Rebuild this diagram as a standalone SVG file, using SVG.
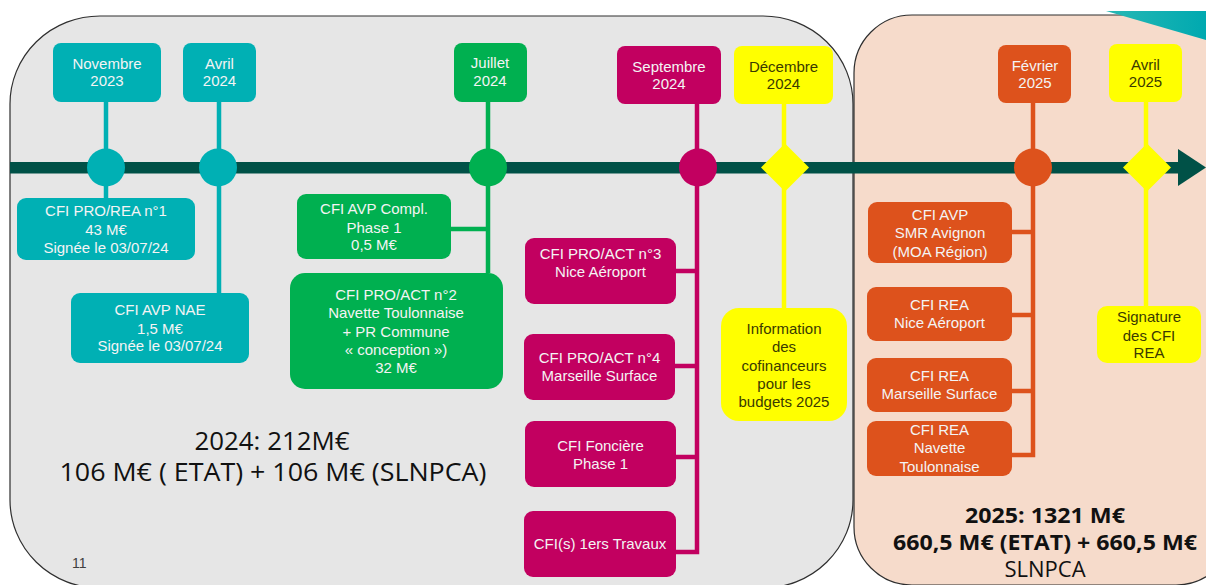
<svg xmlns="http://www.w3.org/2000/svg" width="1206" height="585" viewBox="0 0 1206 585">
  <defs>
    <linearGradient id="tealCorner" x1="0" y1="0" x2="1" y2="0">
      <stop offset="0" stop-color="#27b8b4"/>
      <stop offset="1" stop-color="#00a9b0"/>
    </linearGradient>
    <style>
      .panel-grey { fill: #e6e6e6; stroke: #2e2e2e; stroke-width: 1.2; }
      .panel-peach { fill: #f6dbcb; stroke: #2e2e2e; stroke-width: 1.2; }
      .axis { fill: #005147; }
      .lbl { font-family: "Liberation Sans", Arial, sans-serif; font-size: 15px; text-anchor: middle; }
      .wht { fill: #f4f4f4; }
      .dark { fill: #3a3a00; }
      .teal { fill: #00b0b4; }
      .green { fill: #00b050; }
      .mag { fill: #c20060; }
      .yel { fill: #ffff00; }
      .org { fill: #dd521c; }
      .st-teal { stroke: #00b0b4; }
      .st-green { stroke: #00b050; }
      .st-mag { stroke: #c20060; }
      .st-yel { stroke: #ffff00; }
      .st-org { stroke: #dd521c; }
      .wire { fill: none; stroke-width: 4.5; }
      .sum { font-family: "Open Sans", "Liberation Sans", sans-serif; fill: #111; text-anchor: middle; }
      .sum24 { font-size: 25px; }
      .sum25 { font-size: 22px; font-weight: bold; }
    </style>
  </defs>

  <!-- background panels -->
  <rect x="0" y="0" width="1206" height="585" fill="#ffffff"/>
  <rect class="panel-grey" x="10" y="16" width="843" height="572" rx="90" ry="88"/>
  <rect class="panel-peach" x="854" y="15" width="380" height="570" rx="58" ry="58"/>
  <polygon points="1106,11 1206,11 1206,40" fill="url(#tealCorner)"/>

  <!-- connectors -->
  <g id="connectors" class="wire">
    <path class="st-teal" d="M106,102 V198"/>
    <path class="st-teal" d="M219,102 V293"/>
    <path class="st-green" d="M488,102 V273 M451,229 H488"/>
    <path class="st-mag" d="M697,104 V552 H676 M676,271 H697 M675,366 H697 M676,457 H697"/>
    <path class="st-yel" d="M784,104 V308"/>
    <path class="st-org" d="M1033,103 V455 H1012 M1012,232 H1033 M1012,315 H1033 M1012,391 H1033"/>
    <path class="st-yel" d="M1146,102 V306"/>
  </g>

  <!-- timeline axis -->
  <g id="axis">
    <rect class="axis" x="10" y="162" width="1170" height="11.5"/>
    <polygon class="axis" points="1178,149 1206,167.5 1178,186"/>
  </g>

  <!-- milestones on the axis -->
  <g id="markers">
    <circle class="teal" cx="106" cy="167.5" r="19"/>
    <circle class="teal" cx="218" cy="167.5" r="19"/>
    <circle class="green" cx="488" cy="167.5" r="19"/>
    <circle class="mag" cx="698" cy="167.5" r="19"/>
    <polygon class="yel" points="785,143.5 809,167.5 785,191.5 761,167.5"/>
    <circle class="org" cx="1033" cy="167.5" r="19"/>
    <polygon class="yel" points="1147,143.5 1171,167.5 1147,191.5 1123,167.5"/>
  </g>

  <!-- date labels -->
  <g id="date-nov-2023">
    <rect class="teal" x="53" y="43" width="108" height="59" rx="8"/>
    <text class="lbl wht" x="107" y="69">Novembre</text>
    <text class="lbl wht" x="107" y="86">2023</text>
  </g>
  <g id="date-avr-2024">
    <rect class="teal" x="183" y="43" width="73" height="59" rx="8"/>
    <text class="lbl wht" x="219.5" y="69">Avril</text>
    <text class="lbl wht" x="219.5" y="86">2024</text>
  </g>
  <g id="date-jul-2024">
    <rect class="green" x="454" y="43" width="73" height="59" rx="8"/>
    <text class="lbl wht" x="490" y="68">Juillet</text>
    <text class="lbl wht" x="490" y="86">2024</text>
  </g>
  <g id="date-sep-2024">
    <rect class="mag" x="617" y="46" width="104" height="58" rx="8"/>
    <text class="lbl wht" x="669" y="72">Septembre</text>
    <text class="lbl wht" x="669" y="89">2024</text>
  </g>
  <g id="date-dec-2024">
    <rect class="yel" x="734" y="46" width="99" height="58" rx="8"/>
    <text class="lbl dark" x="783.5" y="72">Décembre</text>
    <text class="lbl dark" x="783.5" y="89">2024</text>
  </g>
  <g id="date-fev-2025">
    <rect class="org" x="998" y="45" width="73" height="58" rx="8"/>
    <text class="lbl wht" x="1035" y="71">Février</text>
    <text class="lbl wht" x="1035" y="88">2025</text>
  </g>
  <g id="date-avr-2025">
    <rect class="yel" x="1109" y="44" width="73" height="58" rx="8"/>
    <text class="lbl dark" x="1145.5" y="70">Avril</text>
    <text class="lbl dark" x="1145.5" y="87">2025</text>
  </g>

  <!-- 2024 agreements -->
  <g id="cfi-pro-rea-1">
    <rect class="teal" x="17" y="198" width="178" height="62" rx="9"/>
    <text class="lbl wht" x="106" y="216">CFI PRO/REA n°1</text>
    <text class="lbl wht" x="106" y="235">43 M€</text>
    <text class="lbl wht" x="106" y="253">Signée le 03/07/24</text>
  </g>
  <g id="cfi-avp-nae">
    <rect class="teal" x="71" y="293" width="178" height="70" rx="9"/>
    <text class="lbl wht" x="160" y="315">CFI AVP NAE</text>
    <text class="lbl wht" x="160" y="334">1,5 M€</text>
    <text class="lbl wht" x="160" y="351">Signée le 03/07/24</text>
  </g>
  <g id="cfi-avp-compl">
    <rect class="green" x="297" y="194" width="154" height="65" rx="9"/>
    <text class="lbl wht" x="374" y="214">CFI AVP Compl.</text>
    <text class="lbl wht" x="374" y="233">Phase 1</text>
    <text class="lbl wht" x="374" y="250">0,5 M€</text>
  </g>
  <g id="cfi-pro-act-2">
    <rect class="green" x="290" y="273" width="213" height="116" rx="15"/>
    <text class="lbl wht" x="396" y="300">CFI PRO/ACT n°2</text>
    <text class="lbl wht" x="396" y="318">Navette Toulonnaise</text>
    <text class="lbl wht" x="396" y="337">+ PR Commune</text>
    <text class="lbl wht" x="396" y="355">« conception »)</text>
    <text class="lbl wht" x="396" y="373">32 M€</text>
  </g>
  <g id="cfi-pro-act-3">
    <rect class="mag" x="525" y="238" width="151" height="66" rx="9"/>
    <text class="lbl wht" x="600.5" y="259">CFI PRO/ACT n°3</text>
    <text class="lbl wht" x="600.5" y="277">Nice Aéroport</text>
  </g>
  <g id="cfi-pro-act-4">
    <rect class="mag" x="524" y="334" width="151" height="66" rx="9"/>
    <text class="lbl wht" x="599.5" y="363">CFI PRO/ACT n°4</text>
    <text class="lbl wht" x="599.5" y="381">Marseille Surface</text>
  </g>
  <g id="cfi-fonciere">
    <rect class="mag" x="525" y="421" width="151" height="66" rx="9"/>
    <text class="lbl wht" x="600.5" y="451">CFI Foncière</text>
    <text class="lbl wht" x="600.5" y="469">Phase 1</text>
  </g>
  <g id="cfi-travaux">
    <rect class="mag" x="524" y="511" width="152" height="66" rx="9"/>
    <text class="lbl wht" x="600" y="549">CFI(s) 1ers Travaux</text>
  </g>
  <g id="info-cofinanceurs">
    <rect class="yel" x="721" y="308" width="126" height="113" rx="18"/>
    <text class="lbl dark" x="784" y="334">Information</text>
    <text class="lbl dark" x="784" y="352">des</text>
    <text class="lbl dark" x="784" y="371">cofinanceurs</text>
    <text class="lbl dark" x="784" y="389">pour les</text>
    <text class="lbl dark" x="784" y="407">budgets 2025</text>
  </g>

  <!-- 2025 agreements -->
  <g id="cfi-avp-smr">
    <rect class="org" x="868" y="202" width="144" height="61" rx="9"/>
    <text class="lbl wht" x="940" y="220">CFI AVP</text>
    <text class="lbl wht" x="940" y="238">SMR Avignon</text>
    <text class="lbl wht" x="940" y="257">(MOA Région)</text>
  </g>
  <g id="cfi-rea-nice">
    <rect class="org" x="867" y="287" width="145" height="54" rx="9"/>
    <text class="lbl wht" x="939.5" y="310">CFI REA</text>
    <text class="lbl wht" x="939.5" y="328">Nice Aéroport</text>
  </g>
  <g id="cfi-rea-marseille">
    <rect class="org" x="867" y="358" width="145" height="54" rx="9"/>
    <text class="lbl wht" x="939.5" y="381">CFI REA</text>
    <text class="lbl wht" x="939.5" y="399">Marseille Surface</text>
  </g>
  <g id="cfi-rea-navette">
    <rect class="org" x="867" y="421" width="145" height="55" rx="9"/>
    <text class="lbl wht" x="939.5" y="435">CFI REA</text>
    <text class="lbl wht" x="939.5" y="453">Navette</text>
    <text class="lbl wht" x="939.5" y="472">Toulonnaise</text>
  </g>
  <g id="signature-cfi-rea">
    <rect class="yel" x="1097" y="306" width="104" height="57" rx="10"/>
    <text class="lbl dark" x="1149" y="322">Signature</text>
    <text class="lbl dark" x="1149" y="341">des CFI</text>
    <text class="lbl dark" x="1149" y="358">REA</text>
  </g>

  <!-- yearly totals -->
  <g id="total-2024">
    <text class="sum sum24" x="272" y="450" textLength="155" lengthAdjust="spacingAndGlyphs">2024: 212M€</text>
    <text class="sum sum24" x="273" y="481" textLength="427" lengthAdjust="spacingAndGlyphs">106 M€ ( ETAT) + 106 M€ (SLNPCA)</text>
  </g>
  <g id="total-2025">
    <text class="sum sum25" x="1045" y="523" textLength="160" lengthAdjust="spacingAndGlyphs">2025: 1321 M€</text>
    <text class="sum sum25" x="1045" y="550" textLength="304" lengthAdjust="spacingAndGlyphs">660,5 M€ (ETAT) + 660,5 M€</text>
    <text class="sum" x="1045" y="577" font-size="22" fill="#333">SLNPCA</text>
  </g>

  <text x="72" y="568" font-family="Liberation Sans, Arial, sans-serif" font-size="14" fill="#404040">11</text>
</svg>
